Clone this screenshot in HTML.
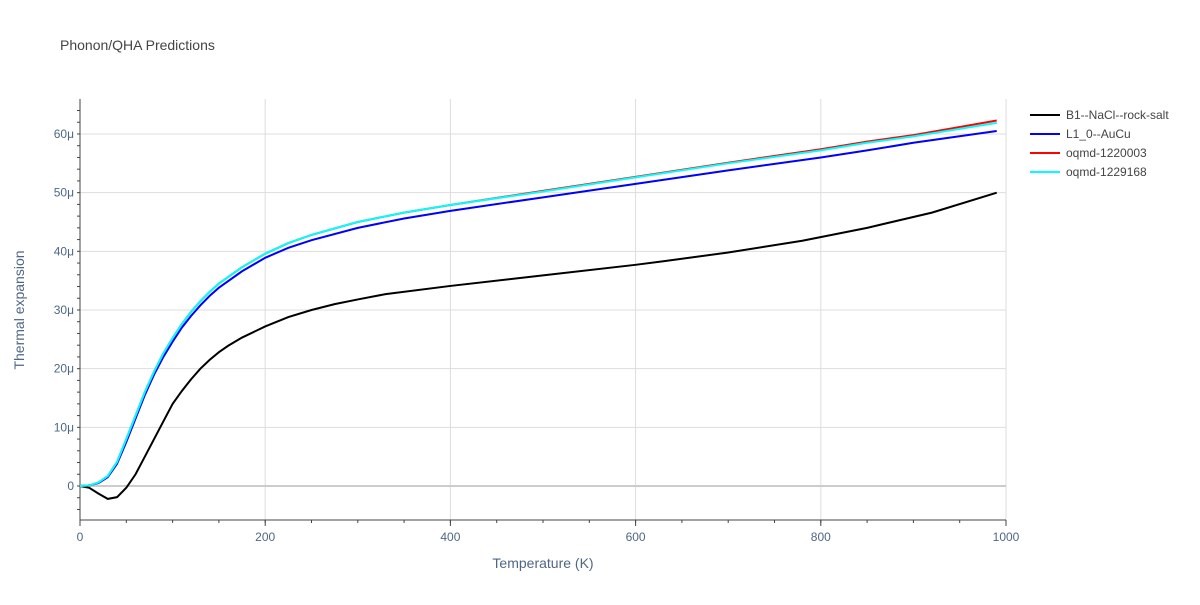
<!DOCTYPE html>
<html><head><meta charset="utf-8"><style>
body{margin:0;background:#fff;font-family:"Liberation Sans",sans-serif}
text{font-family:"Liberation Sans",sans-serif}
</style></head><body>
<svg id="chart" width="1200" height="600" xmlns="http://www.w3.org/2000/svg">
<rect width="1200" height="600" fill="#fff"/>
<text x="60" y="50" font-size="14" fill="#444">Phonon/QHA Predictions</text>
<g id="grid"></g><g id="axes"></g><g id="series"></g><g id="legend"></g>
<text x="543" y="568" font-size="14" fill="#506784" text-anchor="middle">Temperature (K)</text>
<text transform="translate(24,310) rotate(-90)" font-size="14" fill="#506784" text-anchor="middle">Thermal expansion</text>
</svg>
<script>
const seriesNames=["B1--NaCl--rock-salt","L1_0--AuCu","oqmd-1220003","oqmd-1229168"];
const seriesColors=["#000000","#0000ff","#ff0000","#00ffff"];
const tBlack=[0,10,20,30,40,50,60,70,80,90,100,110,120,130,140,150,160,175,200,225,250,275,300,330,400,500,600,630,700,780,850,920,990];
const vBlack=[0,-0.3,-1.3,-2.2,-1.9,-0.3,2,5,8,11,14,16.2,18.2,20,21.5,22.8,23.9,25.3,27.2,28.8,30,31,31.8,32.7,34.1,35.9,37.7,38.3,39.8,41.8,44,46.6,50];
const tBlue=[0,10,20,30,40,50,60,70,80,90,100,110,120,130,140,150,175,200,225,250,300,350,400,500,600,700,800,850,900,990];
const vBlue=[0,0.1,0.5,1.5,3.8,7.5,11.5,15.5,19,22,24.6,27,29,30.8,32.4,33.8,36.6,38.9,40.6,41.9,44,45.6,46.9,49.2,51.5,53.8,56,57.2,58.5,60.5];
const tRed=[0,10,20,30,40,50,60,70,80,90,100,110,120,130,140,150,175,200,225,250,300,350,400,500,600,700,800,850,900,990];
const vRed=[0,0.1,0.6,1.7,4.1,8,12,16,19.5,22.6,25.2,27.6,29.7,31.5,33.1,34.5,37.3,39.6,41.4,42.8,45,46.6,47.9,50.3,52.7,55.1,57.4,58.7,59.8,62.3];
const tCyan=tRed;
const vCyan=[0,0.1,0.6,1.7,4.1,8,12,16,19.5,22.6,25.2,27.6,29.7,31.5,33.1,34.5,37.3,39.6,41.4,42.8,45,46.6,47.9,50.2,52.6,55,57.2,58.5,59.6,61.9];
const xTicks=[0,200,400,600,800,1000];
const yTicks=[0,10,20,30,40,50,60];
const yTickLabels=["0","10μ","20μ","30μ","40μ","50μ","60μ"];
const NS="http://www.w3.org/2000/svg";
const X0=80,X1=1006,Y0=99,Y1=520;
const xs=t=>X0+t*(X1-X0)/1000;
const ys=v=>486-v*5.867;
function mk(tag,attrs,parent){const e=document.createElementNS(NS,tag);for(const k in attrs)e.setAttribute(k,attrs[k]);document.getElementById(parent).appendChild(e);return e;}
xTicks.forEach(t=>{
 if(t>0){const g=mk('line',{x1:xs(t),x2:xs(t),y1:Y0,y2:Y1,stroke:'#ddd'},'grid');
 
 }
 const l=mk('text',{x:xs(t),y:Y1+21,'font-size':12,fill:'#506784','text-anchor':'middle'},'axes');l.textContent=t;
 
 
 mk('line',{x1:xs(t),x2:xs(t),y1:Y1,y2:Y1+6,stroke:'#444'},'axes');
});
for(let t=0;t<=1000;t+=50){mk('line',{x1:xs(t),x2:xs(t),y1:Y1,y2:Y1+3,stroke:'#444'},'axes');}
yTicks.forEach((v,i)=>{
 const g=mk('line',{x1:X0,x2:X1,y1:ys(v),y2:ys(v),stroke:v===0?'#ccc':'#ddd','stroke-width':v===0?2:1},'grid');
 
 
 const l=mk('text',{x:X0-6,y:ys(v)+4,'font-size':12,fill:'#506784','text-anchor':'end'},'axes');l.textContent=yTickLabels[i];
 
 
});
for(let v=-4;v<=64;v+=2){mk('line',{x1:X0-3,x2:X0,y1:ys(v),y2:ys(v),stroke:'#444'},'axes');}
const xa=mk('line',{x1:X0,x2:X1,y1:Y1,y2:Y1,stroke:'#444'},'axes');


const ya=mk('line',{x1:X0,x2:X0,y1:Y0,y2:Y1,stroke:'#444'},'axes');


const data=[[tBlack,vBlack],[tBlue,vBlue],[tRed,vRed],[tCyan,vCyan]];
data.forEach((d,i)=>{
 const p=mk('polyline',{points:d[0].map((t,j)=>xs(t)+','+ys(d[1][j])).join(' '),fill:'none',stroke:seriesColors[i],'stroke-width':2},'series');
 
 
 const y=115+i*19;
 const l=mk('line',{x1:1030,x2:1060,y1:y,y2:y,stroke:seriesColors[i],'stroke-width':2},'legend');
 
 
 const tx=mk('text',{x:1066,y:y+4,'font-size':12,fill:'#444'},'legend');tx.textContent=seriesNames[i];
 
 
});
</script>
</body></html>
